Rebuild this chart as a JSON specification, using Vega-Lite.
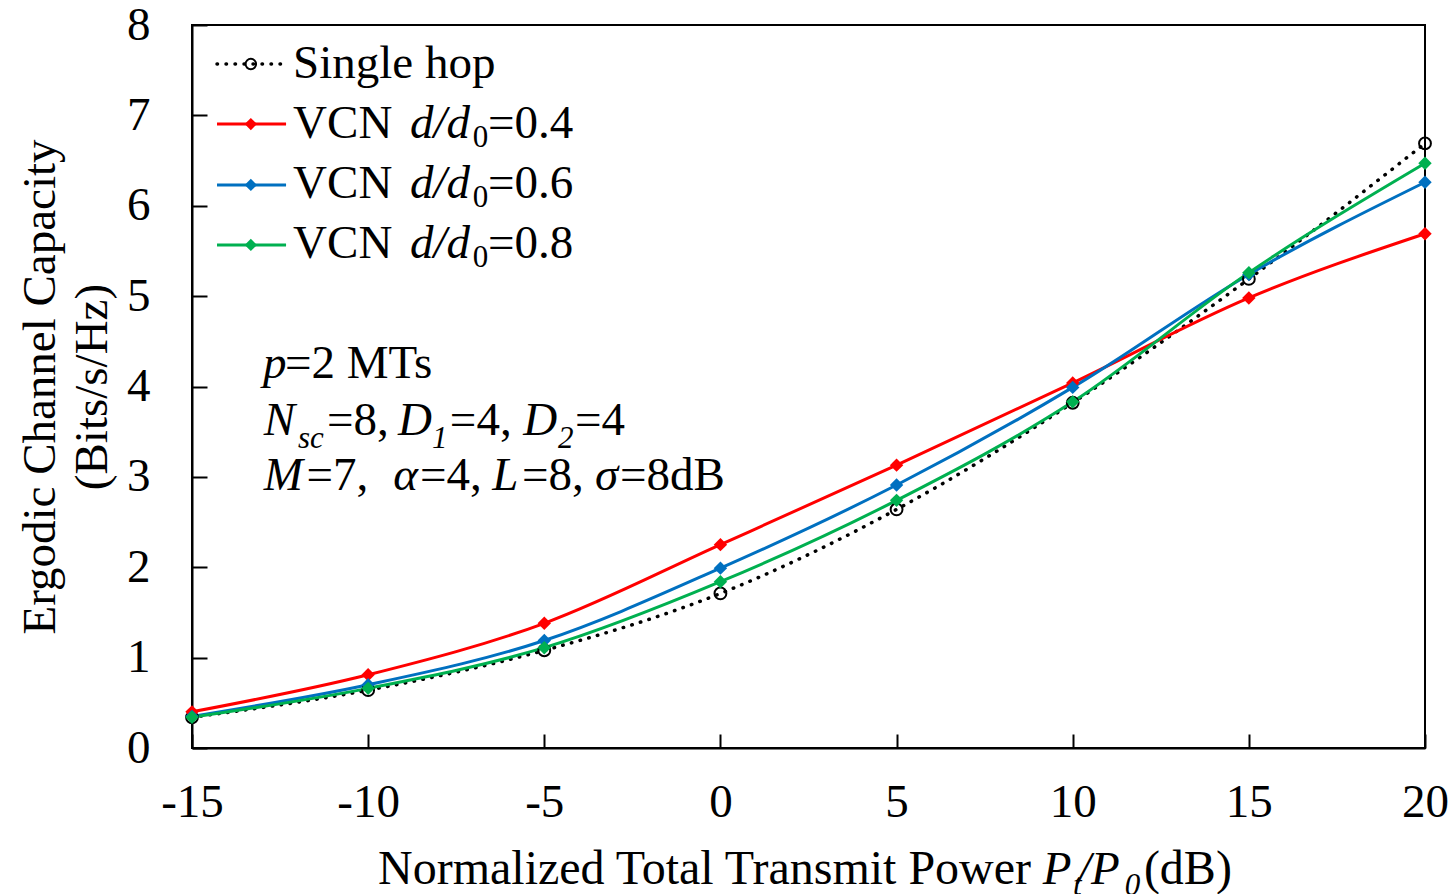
{
  "$schema": "https://vega.github.io/schema/vega-lite/v6.json",
  "width": 1233,
  "height": 723,
  "autosize": "none",
  "padding": {"left": 192, "top": 25, "right": 29, "bottom": 146},
  "background": "white",
  "config": {
    "view": {"stroke": "black", "strokeWidth": 2},
    "font": "Liberation Serif",
    "axis": {
      "labelFont": "Liberation Serif",
      "labelFontSize": 47,
      "labelColor": "black",
      "domainColor": "black",
      "domainWidth": 2,
      "tickColor": "black",
      "tickWidth": 2,
      "grid": false,
      "labelFlush": false,
      "labelOverlap": false,
      "titleFont": "Liberation Serif",
      "titleFontSize": 47,
      "titleFontWeight": "normal",
      "titleColor": "black"
    }
  },
  "datasets": {
    "series": [
      {"s": "Single hop", "x": -15, "y": 0.34},
      {"s": "Single hop", "x": -10, "y": 0.64},
      {"s": "Single hop", "x": -5, "y": 1.08},
      {"s": "Single hop", "x": 0, "y": 1.71},
      {"s": "Single hop", "x": 5, "y": 2.64},
      {"s": "Single hop", "x": 10, "y": 3.82},
      {"s": "Single hop", "x": 15, "y": 5.19},
      {"s": "Single hop", "x": 20, "y": 6.69},
      {"s": "VCN d/d0=0.4", "x": -15, "y": 0.4},
      {"s": "VCN d/d0=0.4", "x": -10, "y": 0.81},
      {"s": "VCN d/d0=0.4", "x": -5, "y": 1.38},
      {"s": "VCN d/d0=0.4", "x": 0, "y": 2.25},
      {"s": "VCN d/d0=0.4", "x": 5, "y": 3.13},
      {"s": "VCN d/d0=0.4", "x": 10, "y": 4.04},
      {"s": "VCN d/d0=0.4", "x": 15, "y": 4.98},
      {"s": "VCN d/d0=0.4", "x": 20, "y": 5.69},
      {"s": "VCN d/d0=0.6", "x": -15, "y": 0.35},
      {"s": "VCN d/d0=0.6", "x": -10, "y": 0.7},
      {"s": "VCN d/d0=0.6", "x": -5, "y": 1.19},
      {"s": "VCN d/d0=0.6", "x": 0, "y": 1.99},
      {"s": "VCN d/d0=0.6", "x": 5, "y": 2.91},
      {"s": "VCN d/d0=0.6", "x": 10, "y": 3.99},
      {"s": "VCN d/d0=0.6", "x": 15, "y": 5.24},
      {"s": "VCN d/d0=0.6", "x": 20, "y": 6.26},
      {"s": "VCN d/d0=0.8", "x": -15, "y": 0.34},
      {"s": "VCN d/d0=0.8", "x": -10, "y": 0.66},
      {"s": "VCN d/d0=0.8", "x": -5, "y": 1.11},
      {"s": "VCN d/d0=0.8", "x": 0, "y": 1.84},
      {"s": "VCN d/d0=0.8", "x": 5, "y": 2.74},
      {"s": "VCN d/d0=0.8", "x": 10, "y": 3.83},
      {"s": "VCN d/d0=0.8", "x": 15, "y": 5.26},
      {"s": "VCN d/d0=0.8", "x": 20, "y": 6.47}
    ],
    "legendLine": [
      {"s": "Single hop", "x": -14.29, "y": 7.568},
      {"s": "Single hop", "x": -12.33, "y": 7.568},
      {"s": "VCN d/d0=0.4", "x": -14.29, "y": 6.904},
      {"s": "VCN d/d0=0.4", "x": -12.33, "y": 6.904},
      {"s": "VCN d/d0=0.6", "x": -14.29, "y": 6.23},
      {"s": "VCN d/d0=0.6", "x": -12.33, "y": 6.23},
      {"s": "VCN d/d0=0.8", "x": -14.29, "y": 5.566},
      {"s": "VCN d/d0=0.8", "x": -12.33, "y": 5.566}
    ],
    "legendMark": [
      {"s": "Single hop", "x": -13.33, "y": 7.568},
      {"s": "VCN d/d0=0.4", "x": -13.33, "y": 6.904},
      {"s": "VCN d/d0=0.6", "x": -13.33, "y": 6.23},
      {"s": "VCN d/d0=0.8", "x": -13.33, "y": 5.566}
    ],
    "texts": [
      {"t": "Single hop", "x": -12.13, "y": 7.414, "role": "n"},
      {"t": "VCN", "x": -12.13, "y": 6.75, "role": "n"},
      {"t": "d/d", "x": -8.81, "y": 6.75, "role": "i"},
      {"t": "0", "x": -7.03, "y": 6.65, "role": "s"},
      {"t": "=0.4", "x": -6.6, "y": 6.75, "role": "n"},
      {"t": "VCN", "x": -12.13, "y": 6.086, "role": "n"},
      {"t": "d/d", "x": -8.81, "y": 6.086, "role": "i"},
      {"t": "0", "x": -7.03, "y": 5.986, "role": "s"},
      {"t": "=0.6", "x": -6.6, "y": 6.086, "role": "n"},
      {"t": "VCN", "x": -12.13, "y": 5.422, "role": "n"},
      {"t": "d/d", "x": -8.81, "y": 5.422, "role": "i"},
      {"t": "0", "x": -7.03, "y": 5.322, "role": "s"},
      {"t": "=0.8", "x": -6.6, "y": 5.422, "role": "n"},
      {"t": "p", "x": -12.985, "y": 4.094, "role": "i"},
      {"t": "=2 MTs", "x": -12.36, "y": 4.094, "role": "n"},
      {"t": "N", "x": -12.96, "y": 3.463, "role": "i"},
      {"t": "sc", "x": -11.99, "y": 3.32, "role": "si"},
      {"t": "=8,", "x": -11.17, "y": 3.463, "role": "n"},
      {"t": "D", "x": -9.15, "y": 3.463, "role": "i"},
      {"t": "1", "x": -8.19, "y": 3.32, "role": "si"},
      {"t": "=4,", "x": -7.68, "y": 3.463, "role": "n"},
      {"t": "D", "x": -5.6, "y": 3.463, "role": "i"},
      {"t": "2", "x": -4.61, "y": 3.32, "role": "si"},
      {"t": "=4", "x": -4.13, "y": 3.463, "role": "n"},
      {"t": "M", "x": -12.96, "y": 2.855, "role": "i"},
      {"t": "=7,", "x": -11.75, "y": 2.855, "role": "n"},
      {"t": "α", "x": -9.29, "y": 2.855, "role": "i"},
      {"t": "=4,", "x": -8.53, "y": 2.855, "role": "n"},
      {"t": "L", "x": -6.48, "y": 2.855, "role": "i"},
      {"t": "=8,", "x": -5.63, "y": 2.855, "role": "n"},
      {"t": "σ", "x": -3.56, "y": 2.855, "role": "i"},
      {"t": "=8dB", "x": -2.85, "y": 2.855, "role": "n"},
      {"t": "Normalized Total Transmit Power", "x": -9.72, "y": -1.505, "role": "T"},
      {"t": "P", "x": 9.15, "y": -1.505, "role": "i"},
      {"t": "t", "x": 10.01, "y": -1.627, "role": "si"},
      {"t": "/P", "x": 10.15, "y": -1.505, "role": "i"},
      {"t": "0", "x": 11.48, "y": -1.627, "role": "si"},
      {"t": "(dB)", "x": 12.02, "y": -1.505, "role": "T"}
    ]
  },
  "encoding": {
    "x": {
      "field": "x",
      "type": "quantitative",
      "scale": {"domain": [-15, 20], "nice": false, "zero": false},
      "axis": {
        "values": [-15, -10, -5, 0, 5, 10, 15, 20],
        "labelExpr": "datum.value + ''",
        "tickSize": -14,
        "labelPadding": 45,
        "title": null
      }
    },
    "y": {
      "field": "y",
      "type": "quantitative",
      "scale": {"domain": [0, 8], "nice": false, "zero": false},
      "axis": {
        "values": [0, 1, 2, 3, 4, 5, 6, 7, 8],
        "labelExpr": "datum.value + ''",
        "tickSize": -15,
        "labelPadding": 57,
        "title": ["Ergodic Channel Capacity", "(Bits/s/Hz)"],
        "titleLineHeight": 52,
        "titlePadding": 10
      }
    }
  },
  "layer": [
    {
      "data": {"name": "series"},
      "transform": [{"filter": "datum.s === 'Single hop'"}],
      "mark": {"type": "line", "color": "black", "strokeWidth": 3.5, "strokeDash": [0.5, 8.5], "strokeCap": "round", "interpolate": "monotone"}
    },
    {
      "data": {"name": "series"},
      "transform": [{"filter": "datum.s !== 'Single hop'"}],
      "mark": {"type": "line", "strokeWidth": 3, "interpolate": "monotone"},
      "encoding": {
        "color": {"field": "s", "type": "nominal", "legend": null,
          "scale": {"domain": ["VCN d/d0=0.4", "VCN d/d0=0.6", "VCN d/d0=0.8"], "range": ["#FF0000", "#0070C0", "#00B050"]}}
      }
    },
    {
      "data": {"name": "series"},
      "transform": [{"filter": "datum.s === 'Single hop'"}],
      "mark": {"type": "point", "shape": "circle", "filled": false, "stroke": "black", "strokeWidth": 2, "size": 140, "opacity": 1}
    },
    {
      "data": {"name": "series"},
      "transform": [{"filter": "datum.s !== 'Single hop'"}],
      "mark": {"type": "point", "shape": "diamond", "filled": true, "size": 180, "opacity": 1},
      "encoding": {
        "color": {"field": "s", "type": "nominal", "legend": null}
      }
    },
    {
      "data": {"name": "legendLine"},
      "transform": [{"filter": "datum.s === 'Single hop'"}],
      "mark": {"type": "line", "color": "black", "strokeWidth": 3.5, "strokeDash": [0.5, 8.5], "strokeCap": "round"}
    },
    {
      "data": {"name": "legendLine"},
      "transform": [{"filter": "datum.s !== 'Single hop'"}],
      "mark": {"type": "line", "strokeWidth": 3},
      "encoding": {
        "color": {"field": "s", "type": "nominal", "legend": null}
      }
    },
    {
      "data": {"name": "legendMark"},
      "transform": [{"filter": "datum.s === 'Single hop'"}],
      "mark": {"type": "point", "shape": "circle", "filled": false, "stroke": "black", "strokeWidth": 2, "size": 110, "opacity": 1}
    },
    {
      "data": {"name": "legendMark"},
      "transform": [{"filter": "datum.s !== 'Single hop'"}],
      "mark": {"type": "point", "shape": "diamond", "filled": true, "size": 150, "opacity": 1},
      "encoding": {
        "color": {"field": "s", "type": "nominal", "legend": null}
      }
    },
    {
      "data": {"name": "texts"},
      "transform": [{"filter": "datum.role === 'n'"}],
      "mark": {"type": "text", "align": "left", "baseline": "alphabetic", "font": "Liberation Serif", "fontSize": 47, "color": "black"},
      "encoding": {"text": {"field": "t"}}
    },
    {
      "data": {"name": "texts"},
      "transform": [{"filter": "datum.role === 'T'"}],
      "mark": {"type": "text", "align": "left", "baseline": "alphabetic", "font": "Liberation Serif", "fontSize": 48, "color": "black"},
      "encoding": {"text": {"field": "t"}}
    },
    {
      "data": {"name": "texts"},
      "transform": [{"filter": "datum.role === 'i'"}],
      "mark": {"type": "text", "align": "left", "baseline": "alphabetic", "font": "Liberation Serif", "fontStyle": "italic", "fontSize": 47, "color": "black"},
      "encoding": {"text": {"field": "t"}}
    },
    {
      "data": {"name": "texts"},
      "transform": [{"filter": "datum.role === 's'"}],
      "mark": {"type": "text", "align": "left", "baseline": "alphabetic", "font": "Liberation Serif", "fontSize": 31, "color": "black"},
      "encoding": {"text": {"field": "t"}}
    },
    {
      "data": {"name": "texts"},
      "transform": [{"filter": "datum.role === 'si'"}],
      "mark": {"type": "text", "align": "left", "baseline": "alphabetic", "font": "Liberation Serif", "fontStyle": "italic", "fontSize": 31, "color": "black"},
      "encoding": {"text": {"field": "t"}}
    }
  ]
}
